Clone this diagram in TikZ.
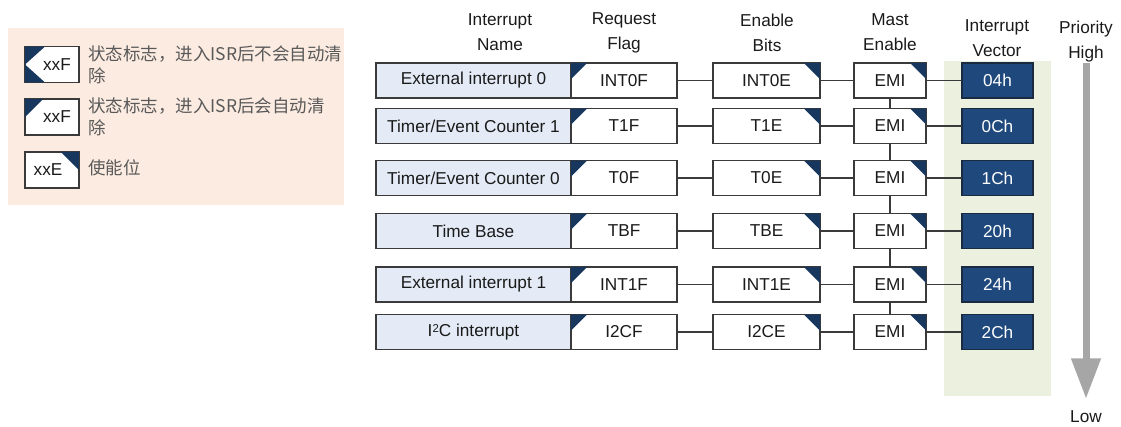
\documentclass[tikz,border=0pt]{standalone}
\usepackage{fontspec}
\setmainfont{Liberation Sans}
\newfontfamily\cjk{Noto Sans CJK SC}
\usetikzlibrary{arrows.meta}
\definecolor{navy}{HTML}{17375E}
\definecolor{namefill}{HTML}{E4EBF6}
\definecolor{bordc}{HTML}{3A3A3A}
\definecolor{vecfill}{HTML}{1F497D}
\definecolor{vecbord}{HTML}{1A2A40}
\definecolor{greenbg}{HTML}{EBF1DE}
\definecolor{peach}{HTML}{FCEBE1}
\definecolor{arrowgray}{HTML}{A6A6A6}
\definecolor{txt}{HTML}{1A1A1A}
\definecolor{legtxtc}{HTML}{595959}
\begin{document}
\begin{tikzpicture}[x=0.02cm,y=-0.02cm,
  box/.style={draw=bordc, line width=0.7pt, outer sep=0pt, inner sep=0pt,
    minimum height=0.7cm, text=txt, font=\fontsize{9.8}{12}\selectfont},
  namebox/.style={box, fill=namefill, minimum width=3.9cm},
  flagbox/.style={box, fill=white, minimum width=2.12cm},
  enbox/.style={box, fill=white, minimum width=2.14cm},
  emibox/.style={box, fill=white, minimum width=1.44cm},
  vecbox/.style={box, draw=vecbord, fill=vecfill, text=white, minimum width=1.42cm},
  legbox/.style={box, fill=white, minimum width=1.08cm, minimum height=0.72cm},
  hdr/.style={align=center, text=txt, font=\fontsize{9.8}{14.2}\selectfont},
  legtxt/.style={anchor=west, align=left, inner sep=0pt, text=legtxtc, font=\cjk\fontsize{9.95}{12.5}\selectfont},
  conn/.style={draw=bordc, line width=0.7pt},
  tri/.style={fill=navy}
]
\useasboundingbox (0,0) rectangle (1121,426);
% backgrounds
\fill[peach] (8,28) rectangle (344,205);
\fill[greenbg] (944,61) rectangle (1051,396);

% legend
\node[legbox] (l1) at (52,64.5) {\hspace*{0.2cm}xxF};
\fill[tri] (l1.north west) -- ++(20,0) -- (l1.west) -- cycle;
\fill[tri] (l1.south west) -- ++(20,0) -- (l1.west) -- cycle;
\node[legbox] (l2) at (52,117) {\hspace*{0.2cm}xxF};
\fill[tri] (l2.north west) -- ++(18,0) -- ++(-18,18) -- cycle;
\node[legbox] (l3) at (52,170) {xxE\hspace*{0.16cm}};
\fill[tri] (l3.north east) -- ++(-18,0) -- ++(18,18) -- cycle;
\node[legtxt] (t1) at (88,65) {状态标志，进入ISR后不会自动清\\除};
\node[legtxt] (t2) at (88,116.5) {状态标志，进入ISR后会自动清\\除};
\node[legtxt] (t3) at (88,168) {使能位};

% headers
\node[hdr] (h1) at (500,32.5) {Interrupt\\Name};
\node[hdr] (h2) at (624,32.5) {Request\\Flag};
\node[hdr] (h3) at (767,32.5) {Enable\\Bits};
\node[hdr] (h4) at (890,32.5) {Mast\\Enable};
\node[hdr] (h5) at (997,38.5) {Interrupt\\Vector};
\node[hdr] (pr) at (1086,42) {Priority\\High};
\node[hdr] (low) at (1086,417) {Low};

% rows
\foreach \i/\y/\nm/\fl/\en/\vc in {
  1/80.5/{External interrupt 0}/INT0F/INT0E/04h,
  2/126/{Timer/Event Counter 1}/T1F/T1E/0Ch,
  3/178/{Timer/Event Counter 0}/T0F/T0E/1Ch,
  4/231/{Time Base}/TBF/TBE/20h,
  5/284.5/{External interrupt 1}/INT1F/INT1E/24h,
  6/332/{I\raisebox{0.45ex}{\fontsize{6.5}{7}\selectfont 2}C interrupt}/I2CF/I2CE/2Ch}{
  \node[namebox] (n\i) at (473.5,\y) {\nm};
  \node[flagbox] (f\i) at (624,\y) {\fl};
  \fill[tri] (f\i.north west) -- ++(16,0) -- ++(-16,16) -- cycle;
  \node[enbox] (e\i) at (766.5,\y) {\en};
  \fill[tri] (e\i.north east) -- ++(-16,0) -- ++(16,16) -- cycle;
  \node[emibox] (m\i) at (890,\y) {EMI};
  \fill[tri] (m\i.north east) -- ++(-16,0) -- ++(16,16) -- cycle;
  \node[vecbox] (v\i) at (997.5,\y) {\vc};
  \draw[conn] (f\i.east) -- (e\i.west);
  \draw[conn] (e\i.east) -- (m\i.west);
  \draw[conn] (m\i.east) -- (v\i.west);
}
\foreach \a/\b in {1/2,2/3,3/4,4/5,5/6}
  \draw[conn] (m\a.south) -- (m\b.north);

% priority arrow
\draw[arrowgray, line width=4pt, shorten <=-3pt, shorten >=3.4pt,
  -{Triangle[width=16pt,length=23pt]}] (pr.south) -- (low.north);
\end{tikzpicture}
\end{document}
